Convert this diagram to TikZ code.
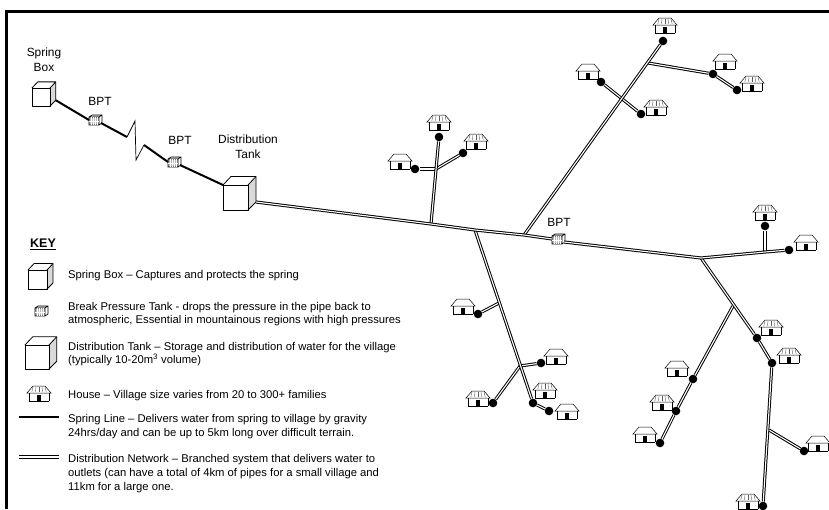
\documentclass[tikz,border=0pt]{standalone}
\usepackage{fontspec}
\setmainfont{Liberation Sans}
\tikzset{
  spline/.style={line width=2pt},
  distline/.style={line width=1pt,double=white,double distance=1.1pt},
  dot/.style={circle,fill=black,inner sep=0pt,minimum size=8.6pt},
  keytext/.style={anchor=west,inner sep=0pt,align=left,font=\fontsize{11.25}{13.6}\selectfont},
  placelab/.style={inner sep=0pt,align=center,font=\fontsize{11.9}{15}\selectfont},
  cube/.pic={
    \fill[gray!30] (1,0) -- (1.32,-0.34) -- (1.32,0.68) -- (1,1) -- cycle;
    \draw[line width=0.8pt,line join=round] (0,0) rectangle (1,1);
    \draw[line width=0.8pt,line join=round] (0,0) -- (0.32,-0.34) -- (1.32,-0.34) -- (1,0);
    \draw[line width=0.8pt,line join=round] (1.32,-0.34) -- (1.32,0.68) -- (1,1);
    \coordinate (-e) at (1.32,0.68);
    \coordinate (-w) at (0,0);
  },
  bptbox/.pic={
    \fill[gray!55] (-6,-4) rectangle (4,4);
    \fill[gray!35] (-3,-6) -- (7,-6) -- (4,-4) -- (-6,-4) -- cycle;
    \draw[line width=0.6pt] (-6,-4) rectangle (4,4) (-6,-4) -- (-3,-6) -- (7,-6) -- (7,2) -- (4,4) (7,-6) -- (4,-4);
    \foreach \i in {-4,-2,...,2} \draw[white,line width=0.3pt] (\i,-4) -- (\i,4);
    \draw[white,line width=0.3pt] (-6,0) -- (4,0);
    \coordinate (-e) at (6,2);
    \coordinate (-w) at (-6,-1);
  },
  house/.pic={
    \draw[line width=0.5pt,fill=white] (-12,0) -- (-6,-7) -- (6,-7) -- (12,0) -- cycle;
    \draw[line width=0.5pt] (-10,0) -- (-10,8) -- (10,8) (10,0) -- (10,8);
    \fill (-2,1.5) rectangle (2,8);
  },
  tiledhouse/.pic={
    \draw[line width=0.5pt,fill=white] (-12,0) -- (-6,-7) -- (6,-7) -- (12,0) -- cycle;
    \foreach \i in {-6,-3,...,6} \draw[line width=0.4pt,gray!70!black] (\i,-6) -- (\i*1.2,-1);
    \draw[line width=0.5pt] (-10,0) -- (-10,8) -- (10,8) (10,0) -- (10,8);
    \fill (-2,1.5) rectangle (2,8);
  }
}

\begin{document}
\begin{tikzpicture}[x=1pt,y=-1pt]
  \useasboundingbox (0,0) rectangle (829,509);
  \draw[line width=3pt] (6,509) -- (6,11) -- (829,11);

  % supply side
  \node[placelab] (springlab) at (44,60) {Spring\\Box};
  \node[placelab] (bptlaba) at (100,101) {BPT};
  \node[placelab] (bptlabb) at (180,140) {BPT};
  \node[placelab] (tanklab) at (248,147) {Distribution\\Tank};
  \node[placelab] (bptlabc) at (559,222) {BPT};
  \pic[scale=18] (spring) at (32,88) {cube};
  \pic[scale=25] (tank) at (223,185) {cube};
  \pic (bpta) at (95,121) {bptbox};
  \pic (bptb) at (174,163) {bptbox};
  \pic (bptc) at (558,240) {bptbox};
  \coordinate (za) at (127,137);
  \coordinate (zb) at (135,121);
  \coordinate (zc) at (136,160);
  \coordinate (zd) at (144,145);
  \draw[spline] (spring-e) -- (bpta-w);
  \draw[spline] (bpta-e) -- (za);
  \draw[line width=0.7pt] (za) -- (zb) -- (zc) -- (zd);
  \draw[spline] (zd) -- (bptb-w);
  \draw[spline] (bptb-e) -- (tank-w);

  % junctions
  \coordinate (ja) at (431,224);
  \coordinate (jb) at (475,230);
  \coordinate (jc) at (524,235);
  \coordinate (jd) at (701,258);
  \coordinate (je) at (765,252);
  \coordinate (jf) at (436,169);
  \coordinate (jg) at (648,63);
  \coordinate (ji) at (499,303);
  \coordinate (jj) at (520,366);
  \coordinate (jk) at (733,306);
  \coordinate (jl) at (769,430);

  % outlets
  \node[dot] (da) at (439,137) {};
  \node[dot] (db) at (463,153) {};
  \node[dot] (dc) at (415,169) {};
  \node[dot] (dd) at (663,41) {};
  \node[dot] (de) at (713,74) {};
  \node[dot] (df) at (737,90) {};
  \node[dot] (dg) at (601,82) {};
  \node[dot] (dh) at (641,114) {};
  \node[dot] (di) at (765,226) {};
  \node[dot] (dj) at (789,250) {};
  \node[dot] (dk) at (478,314) {};
  \node[dot] (dl) at (541,363) {};
  \node[dot] (dm) at (493,403) {};
  \node[dot] (dn) at (533,403) {};
  \node[dot] (do) at (549,411) {};
  \node[dot] (dp) at (757,338) {};
  \node[dot] (dq) at (772,363) {};
  \node[dot] (dr) at (693,379) {};
  \node[dot] (ds) at (676,411) {};
  \node[dot] (dt) at (660,443) {};
  \node[dot] (du) at (804,451) {};
  \node[dot] (dv) at (763,506) {};

  % distribution network
  \draw[distline] (jf) -- (dc);
  \draw[distline] (jf) -- (db);
  \draw[distline] (ja) -- (da);
  \draw[distline] (jg) -- (de);
  \draw[distline] (de) -- (df);
  \draw[distline] (dg) -- (dh);
  \draw[distline] (jc) -- (dd);
  \draw[distline] (je) -- (di);
  \draw[distline] (ji) -- (dk);
  \draw[distline] (dm) -- (jj) -- (dl);
  \draw[distline] (jb) -- (dn);
  \draw[distline] (dn) -- (do);
  \draw[distline] (jk) -- (dr);
  \draw[distline] (dr) -- (ds);
  \draw[distline] (ds) -- (dt);
  \draw[distline] (jl) -- (du);
  \draw[distline] (dq) -- (dv);
  \draw[distline] (jd) -- (dp);
  \draw[distline] (dp) -- (dq);
  \draw[distline] (tank-e) -- (ja) -- (jb) -- (jc) -- (bptc-w);
  \draw[distline] (bptc-e) -- (jd) -- (je) -- (dj);

  % houses
  \foreach \x/\y in {400/161,588/71,725/61,806/242,463/306,556/356,567/411,677/368,645/434,818/443}
    \pic at (\x,\y) {house};
  \foreach \x/\y in {439/122,476/141,665/25,656/107,752/83,765/212,478/398,545/390,771/327,789/355,662/402,748/501}
    \pic at (\x,\y) {tiledhouse};

  % key
  \node[inner sep=0pt,font=\fontsize{12.5}{13}\selectfont\bfseries] (keylab) at (43,244) {\underline{KEY}};
  \pic[scale=19] (keyspring) at (28,270) {cube};
  \pic (keybpt) at (41,312) {bptbox};
  \pic[scale=24] (keytank) at (25,345) {cube};
  \pic (keyhouse) at (39,393) {tiledhouse};
  \coordinate (sla) at (19,417);
  \coordinate (slb) at (59,417);
  \coordinate (nla) at (19,457);
  \coordinate (nlb) at (59,457);
  \draw[spline] (sla) -- (slb);
  \draw[distline] (nla) -- (nlb);
  \node[keytext] (ka) at (68,276) {Spring Box – Captures and protects the spring};
  \node[keytext] (kb) at (68,314) {Break Pressure Tank - drops the pressure in the pipe back to\\atmospheric, Essential in mountainous regions with high pressures};
  \node[keytext] (kc) at (68,354) {Distribution Tank – Storage and distribution of water for the village\\(typically 10-20m\textsuperscript{3} volume)};
  \node[keytext] (kd) at (68,396) {House – Village size varies from 20 to 300+ families};
  \node[keytext] (ke) at (68,426.5) {Spring Line – Delivers water from spring to village by gravity\\24hrs/day and can be up to 5km long over difficult terrain.};
  \node[keytext] (kf) at (68,473.5) {Distribution Network – Branched system that delivers water to\\outlets (can have a total of 4km of pipes for a small village and\\11km for a large one.};
\end{tikzpicture}
\end{document}
